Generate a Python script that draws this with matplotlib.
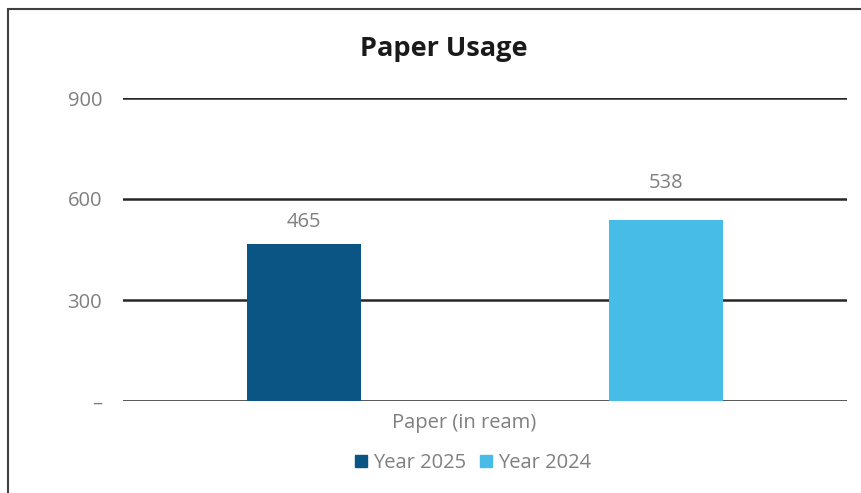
import matplotlib.pyplot as plt
from matplotlib.patches import Rectangle

plt.rcParams['font.family'] = ['Open Sans', 'DejaVu Sans']

series = ['Year 2025', 'Year 2024']
values = [465, 538]
colors = ['#0B5585', '#46BCE6']
category = 'Paper (in ream)'
yticks = [0, 300, 600, 900]
ytick_labels = ['–', '300', '600', '900']

# label offsets above bars (px), the second one sits above the 600 gridline
label_offsets = [22, 37]

fig = plt.figure(figsize=(8.61, 4.93), dpi=100)
ax = fig.add_axes([123 / 861, 1 - 401 / 493, 724 / 861, 303 / 493])

# outer frame (only left and top edges are visible)
fig.patches.append(Rectangle((8 / 861, -0.05), 1.0, 1 - 8.5 / 493 + 0.05,
                             transform=fig.transFigure, fill=False,
                             edgecolor='#404040', linewidth=1.5))

x = list(range(len(values)))
bars = ax.bar(x, values, width=0.315, color=colors, zorder=3)
for b, v, off in zip(bars, values, label_offsets):
    ax.annotate(str(v), (b.get_x() + b.get_width() / 2, v), xytext=(0, off * 0.72),
                textcoords='offset points', ha='center', va='center',
                color='#7f7f7f', fontsize=14.5)

ax.set_xlim(-0.5, 1.5)
ax.set_ylim(0, 900)
ax.set_yticks(yticks)
ax.set_yticklabels(ytick_labels)
ax.set_xticks([])
ax.tick_params(axis='y', length=0, pad=15, labelsize=14.5, labelcolor='#7f7f7f')
ax.grid(axis='y', color='#262626', linewidth=1.8, zorder=0)
for s in ax.spines.values():
    s.set_visible(False)

fig.text(444 / 861, 1 - 49 / 493, 'Paper Usage', ha='center', va='center',
         fontsize=19.5, fontweight='bold', color='#1a1a1a')
fig.text(464 / 861, 1 - 423 / 493, category, ha='center', va='center',
         fontsize=14.5, color='#7f7f7f')

handles = [Rectangle((0, 0), 1, 1, color=c) for c in colors]
leg = fig.legend(handles, series, loc='center', bbox_to_anchor=(473 / 861, 1 - 463 / 493),
                 ncol=2, frameon=False, handlelength=0.6, handleheight=0.6,
                 handletextpad=0.3, columnspacing=0.7, fontsize=14.5)
for t in leg.get_texts():
    t.set_color('#7f7f7f')

fig.savefig('out.png', dpi=100)
